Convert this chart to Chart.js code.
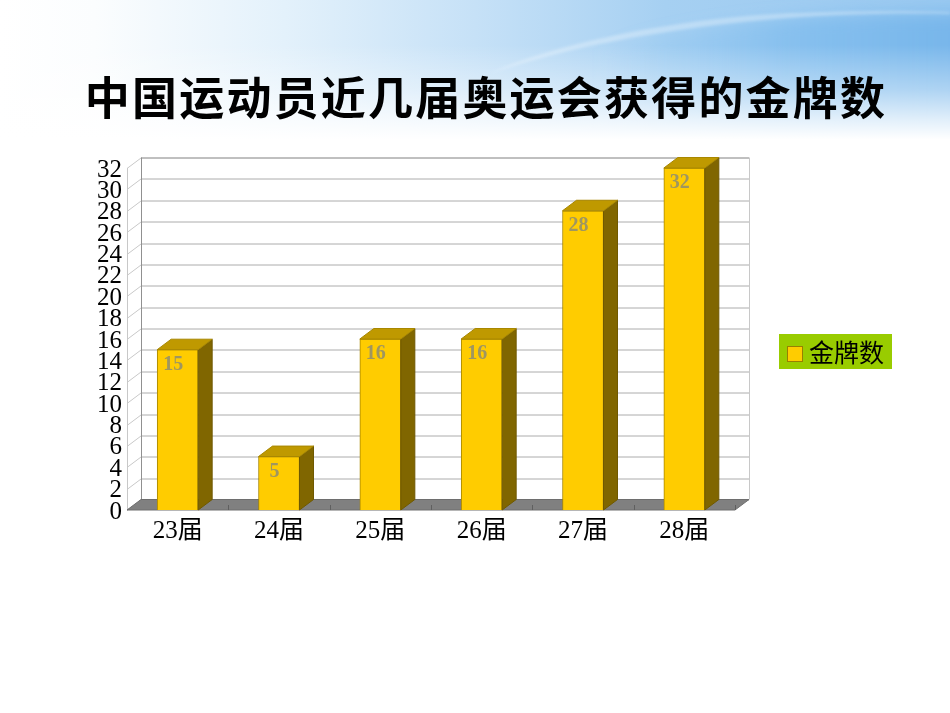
<!DOCTYPE html>
<html>
<head>
<meta charset="utf-8">
<script src="https://cdn.jsdelivr.net/npm/chart.js@4"></script>
<style>
  html, body { margin: 0; padding: 0; width: 950px; height: 713px; overflow: hidden; background: #fff; }
  #bg { position: absolute; left: 0; top: 0; }
  #Chart { position: absolute; left: 0; top: 0; }
  #title {
    position: absolute; left: 0; top: 65px; width: 950px; margin: 0; padding-left: 22px; box-sizing: border-box;
    text-align: center; font: 700 45px/62px "Noto Sans CJK SC", sans-serif; letter-spacing: 2.2px; color: #000;
  }
  #legend {
    position: absolute; left: 779px; top: 334px; width: 113px; height: 35px; background: #99cc00;
    font: 25px/35px "Noto Sans CJK SC", sans-serif; color: #000; white-space: nowrap;
  }
  #legend i {
    position: absolute; left: 8px; top: 12px; width: 14px; height: 14px; background: #ffcc00; border: 1px solid #998000;
  }
  #legend span { position: absolute; left: 30px; top: 0; }
</style>
</head>
<body>
<svg id="bg" width="950" height="150" viewBox="0 0 950 150">
  <defs>
    <linearGradient id="sky" x1="0" y1="0" x2="1" y2="0">
      <stop offset="0" stop-color="#ffffff"/>
      <stop offset="0.1" stop-color="#fbfdfe"/>
      <stop offset="0.3" stop-color="#e3f1fb"/>
      <stop offset="0.5" stop-color="#c6e1f7"/>
      <stop offset="0.7" stop-color="#a6d0f2"/>
      <stop offset="1" stop-color="#98c8f0"/>
    </linearGradient>
    <linearGradient id="deep" x1="0" y1="0" x2="1" y2="0">
      <stop offset="0" stop-color="#8fc6f1" stop-opacity="0"/>
      <stop offset="0.5" stop-color="#7dbbed" stop-opacity="0.7"/>
      <stop offset="1" stop-color="#72b3ea" stop-opacity="0.9"/>
    </linearGradient>
    <linearGradient id="fade" x1="0" y1="0" x2="0" y2="1">
      <stop offset="0" stop-color="#fff" stop-opacity="0"/>
      <stop offset="0.3" stop-color="#fff" stop-opacity="0"/>
      <stop offset="0.6" stop-color="#fff" stop-opacity="0.4"/>
      <stop offset="0.8" stop-color="#fff" stop-opacity="0.78"/>
      <stop offset="0.93" stop-color="#fff" stop-opacity="1"/>
    </linearGradient>
    <filter id="soft"><feGaussianBlur stdDeviation="1.5"/></filter>
    <filter id="softer"><feGaussianBlur stdDeviation="8"/></filter>
  </defs>
  <rect width="950" height="150" fill="url(#sky)"/>
  <path d="M600 50 C700 20 820 12 950 13 L970 13 L970 150 L600 150 Z" fill="url(#deep)" filter="url(#softer)"/>
  <rect width="950" height="150" fill="url(#fade)"/>
  <path d="M490 73 C560 42 680 18 790 13 C840 11 900 10 950 12 L950 14 C860 12 760 18 680 30 C610 40 550 54 490 73 Z" fill="#fff" opacity="0.3" filter="url(#soft)"/>
</svg>
<canvas id="Chart" width="950" height="713"></canvas>
<h1 id="title">中国运动员近几届奥运会获得的金牌数</h1>
<div id="legend"><i></i><span></span></div>
<script>
let categories = ['23届', '24届', '25届', '26届', '27届', '28届'];
let seriesName = '金牌数';
let medals = [15, 5, 16, 16, 28, 32];

// depth of the fake 3d box, in px
let depthX = 14;
let depthY = 10.5;

function poly(ctx, pts, fill, stroke) {
  ctx.beginPath();
  pts.forEach((p, i) => i ? ctx.lineTo(p[0], p[1]) : ctx.moveTo(p[0], p[1]));
  ctx.closePath();
  if (fill) { ctx.fillStyle = fill; ctx.fill(); }
  if (stroke) { ctx.strokeStyle = stroke; ctx.lineWidth = 1; ctx.stroke(); }
}

let wall3d = {
  id: 'wall3d',
  beforeDatasetsDraw(chart) {
    let ctx = chart.ctx, a = chart.chartArea, y = chart.scales.y, x = chart.scales.x;
    ctx.save();
    // grid on the back wall and the side wall
    y.ticks.forEach(t => {
      let py = Math.round(y.getPixelForValue(t.value)) + 0.5;
      ctx.lineWidth = 1;
      ctx.strokeStyle = '#c8c8c8';
      ctx.beginPath();
      ctx.moveTo(a.left, py);
      ctx.lineTo(a.left + depthX, py - depthY);
      ctx.stroke();
      ctx.strokeStyle = t.value === 32 ? '#808080' : '#acacac';
      ctx.beginPath();
      ctx.moveTo(a.left + depthX, py - depthY);
      ctx.lineTo(a.right + depthX, py - depthY);
      ctx.stroke();
    });
    // wall edges
    ctx.strokeStyle = '#c8c8c8';
    ctx.beginPath();
    ctx.moveTo(a.left + 0.5, a.top);
    ctx.lineTo(a.left + 0.5, a.bottom);
    ctx.moveTo(a.right + depthX + 0.5, a.top - depthY);
    ctx.lineTo(a.right + depthX + 0.5, a.bottom - depthY);
    ctx.stroke();
    ctx.strokeStyle = '#909090';
    ctx.beginPath();
    ctx.moveTo(a.left + depthX + 0.5, a.top - depthY);
    ctx.lineTo(a.left + depthX + 0.5, a.bottom - depthY);
    ctx.stroke();
    // floor
    poly(ctx, [[a.left, a.bottom], [a.left + depthX, a.bottom - depthY],
      [a.right + depthX, a.bottom - depthY], [a.right, a.bottom]], '#808080', '#6e6e6e');
    // category ticks on the floor edge
    ctx.strokeStyle = '#5f5f5f';
    ctx.beginPath();
    for (let i = 1; i <= categories.length; i++) {
      let px = Math.round((x.getPixelForValue(i - 1) + x.getPixelForValue(i)) / 2) + 0.5;
      if (i === categories.length) px = a.right + 0.5;
      ctx.moveTo(px, a.bottom);
      ctx.lineTo(px, a.bottom - 5);
    }
    ctx.stroke();
    ctx.restore();
  },
  afterDatasetsDraw(chart) {
    let ctx = chart.ctx, bars = chart.getDatasetMeta(0).data;
    ctx.save();
    bars.forEach((b, i) => {
      let l = b.x - b.width / 2, r = b.x + b.width / 2, t = b.y, bot = b.base;
      poly(ctx, [[r, t], [r + depthX, t - depthY], [r + depthX, bot - depthY], [r, bot]], '#806600', '#6f5900');
      poly(ctx, [[l, t], [l + depthX, t - depthY], [r + depthX, t - depthY], [r, t]], '#bf9900', '#a88700');
      ctx.fillStyle = '#9f9660';
      ctx.font = 'bold 20px "Liberation Serif", serif';
      ctx.textAlign = 'center';
      ctx.textBaseline = 'middle';
      ctx.fillText(String(medals[i]), b.x - 4.5, t + 15);
    });
    ctx.restore();
  }
};

let chartCtx = document.getElementById('Chart');
let tickFont = { family: '"Liberation Serif", "Noto Sans CJK SC", serif', size: 25 };

let chartConfig = {
  type: 'bar',
  data: {
    labels: categories,
    datasets: [{
      label: seriesName,
      data: medals,
      backgroundColor: '#ffcc00',
      borderColor: '#a88700',
      borderWidth: 1,
      barThickness: 41
    }]
  },
  options: {
    responsive: false,
    animation: false,
    layout: { padding: { left: 92, right: 215, top: 168, bottom: 163 } },
    plugins: { legend: { display: false }, title: { display: false }, tooltip: { enabled: false } },
    scales: {
      x: {
        grid: { display: false, drawTicks: false },
        border: { display: false },
        ticks: { color: '#000', font: tickFont, padding: 6, maxRotation: 0 },
        afterFit(s) { s.height = 40; }
      },
      y: {
        min: 0,
        max: 32,
        grid: { display: false, drawTicks: false },
        border: { display: false },
        ticks: { color: '#000', font: tickFont, padding: 5, stepSize: 2, autoSkip: false, labelOffset: 2 },
        afterFit(s) { s.width = 35; }
      }
    }
  },
  plugins: [wall3d]
};
let medalChart = new Chart(chartCtx, chartConfig);

document.querySelector('#legend span').textContent = seriesName;
</script>
</body>
</html>
